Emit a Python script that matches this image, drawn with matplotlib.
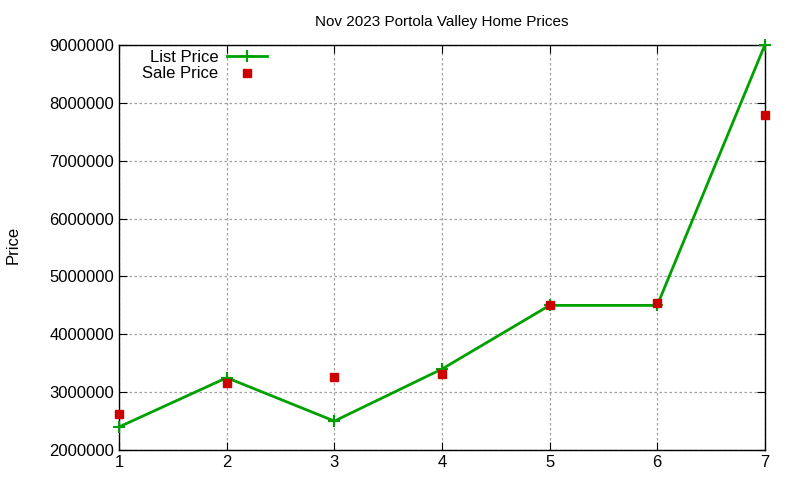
import matplotlib
matplotlib.use('Agg')
from matplotlib import pyplot as plt

# data
houses = [1, 2, 3, 4, 5, 6, 7]
list_price = [2400000, 3250000, 2500000, 3400000, 4500000, 4500000, 9000000]
sale_price = [2630000, 3150000, 3260000, 3310000, 4500000, 4550000, 7800000]

plt.rcParams['font.family'] = ['Liberation Sans', 'DejaVu Sans']

fig = plt.figure(figsize=(8, 4.8), dpi=100)
ax = fig.add_axes([0.149, 0.0625, 0.807, 0.8435])

ax.plot(houses, list_price, color='#00a000', lw=2, marker='+', ms=8, mew=1.5,
        label='List Price', zorder=3, clip_on=False)
ax.plot(houses, sale_price, ls='none', color='#cc0000', marker='s', ms=6,
        label='Sale Price', zorder=4, clip_on=False)

ax.set_xlim(1, 7)
ax.set_ylim(2000000, 9000000)
ax.set_xticks(houses)
ax.set_yticks(range(2000000, 9000001, 1000000))
ax.ticklabel_format(axis='y', style='plain', useOffset=False)
ax.tick_params(direction='in', top=True, right=True, labelsize=12, length=6)
ax.grid(True, color='#a0a0a0', linestyle=(0, (2, 2)), lw=0.9)
for s in ax.spines.values():
    s.set_linewidth(1.0)

ax.set_title('Nov 2023 Portola Valley Home Prices', fontsize=11, pad=14)
fig.text(0.016, 0.49, 'Price', rotation=90, fontsize=12, va='center', ha='center')

ax.legend(loc='upper left', bbox_to_anchor=(0.02, 1.012), frameon=False, markerfirst=False,
          fontsize=12, handlelength=2.4, handletextpad=0.5, labelspacing=0.07, borderaxespad=0.2)

fig.savefig('out.png')
